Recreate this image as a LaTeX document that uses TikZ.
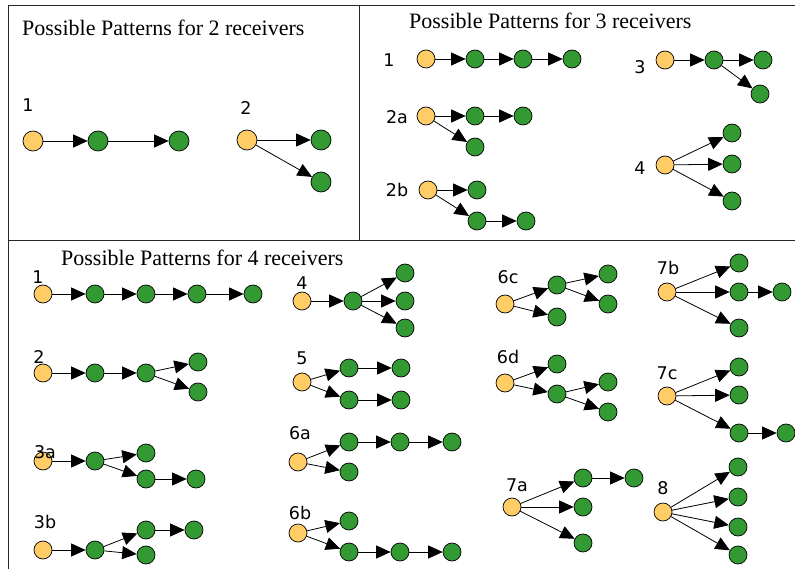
\documentclass[tikz,border=0pt]{standalone}
\usepackage{fontspec}
\setmainfont{Liberation Serif}
\newfontfamily\labfont{DejaVu Sans}
\usetikzlibrary{arrows.meta}
\definecolor{srcfill}{HTML}{FFCC66}
\definecolor{rxfill}{HTML}{339933}
\begin{document}
\begin{tikzpicture}[x=1pt,y=-1pt,
  nd/.style={circle,draw=black,line width=0.7pt,inner sep=0pt,minimum size=18pt},
  src/.style={nd,fill=srcfill},
  rx/.style={nd,fill=rxfill},
  bigsrc/.style={src,minimum size=20pt},
  bigrx/.style={rx,minimum size=20pt},
  arr/.style={-{Triangle[length=14.5pt,width=13pt]},line width=0.8pt,black},
  lab/.style={inner sep=0pt,font=\labfont\fontsize{17.5}{17.5}\selectfont},
  ttl/.style={inner sep=0pt,anchor=west,font=\fontsize{22}{22}\selectfont},
  frame/.style={line width=1pt,black!85}]
\useasboundingbox (0,0) rectangle (795,569);
% frames
\draw[frame] (8,569) -- (8,6) -- (795,6);
\draw[frame] (359,6) -- (359,241);
\draw[frame] (8,241) -- (795,241);
% titles
\node[ttl] (t2) at (22,28) {Possible Patterns for 2 receivers};
\node[ttl] (t3) at (409,21) {Possible Patterns for 3 receivers};
\node[ttl] (t4) at (61,258) {Possible Patterns for 4 receivers};

% ---------- 2 receivers ----------
\node[lab] (l21) at (28,105) {1};
\node[bigsrc] (p21s) at (33,141) {};
\node[bigrx] (p21a) at (98,141) {};
\node[bigrx] (p21b) at (179,141) {};
\draw[arr] (p21s) -- (p21a);
\draw[arr] (p21a) -- (p21b);

\node[lab] (l22) at (246,108) {2};
\node[bigsrc] (p22s) at (247,140) {};
\node[bigrx] (p22a) at (321,140) {};
\node[bigrx] (p22b) at (321,182) {};
\draw[arr] (p22s) -- (p22a);
\draw[arr] (p22s) -- (p22b);

% ---------- 3 receivers ----------
\node[lab] (l31) at (389,60) {1};
\node[src] (p31s) at (426,59) {};
\node[rx] (p31a) at (475,59) {};
\node[rx] (p31b) at (523,59) {};
\node[rx] (p31c) at (572,59) {};
\draw[arr] (p31s) -- (p31a);
\draw[arr] (p31a) -- (p31b);
\draw[arr] (p31b) -- (p31c);

\node[lab] (l33) at (640,67) {3};
\node[src] (p33s) at (665,60) {};
\node[rx] (p33a) at (714,60) {};
\node[rx] (p33b) at (763,60) {};
\node[rx] (p33c) at (760,94) {};
\draw[arr] (p33s) -- (p33a);
\draw[arr] (p33a) -- (p33b);
\draw[arr] (p33a) -- (p33c);

\node[lab] (l32a) at (397,117) {2a};
\node[src] (p32as) at (426,116) {};
\node[rx] (p32aa) at (475,116) {};
\node[rx] (p32ab) at (523,116) {};
\node[rx] (p32ac) at (475,147) {};
\draw[arr] (p32as) -- (p32aa);
\draw[arr] (p32aa) -- (p32ab);
\draw[arr] (p32as) -- (p32ac);

\node[lab] (l32b) at (397,190) {2b};
\node[src] (p32bs) at (428,190) {};
\node[rx] (p32ba) at (477,190) {};
\node[rx] (p32bb) at (477,221) {};
\node[rx] (p32bc) at (526,221) {};
\draw[arr] (p32bs) -- (p32ba);
\draw[arr] (p32bs) -- (p32bb);
\draw[arr] (p32bb) -- (p32bc);

\node[lab] (l34) at (640,168) {4};
\node[src] (p34s) at (665,165) {};
\node[rx] (p34a) at (732,133) {};
\node[rx] (p34b) at (732,164) {};
\node[rx] (p34c) at (732,201) {};
\draw[arr] (p34s) -- (p34a);
\draw[arr] (p34s) -- (p34b);
\draw[arr] (p34s) -- (p34c);

% ---------- 4 receivers ----------
\node[src] (q1s) at (43,294) {};
\node[rx] (q1a) at (95,294) {};
\node[rx] (q1b) at (146,294) {};
\node[rx] (q1c) at (197,294) {};
\node[rx] (q1d) at (253,294) {};
\draw[arr] (q1s) -- (q1a);
\draw[arr] (q1a) -- (q1b);
\draw[arr] (q1b) -- (q1c);
\draw[arr] (q1c) -- (q1d);
\node[lab] (lq1) at (38,277) {1};

\node[src] (q2s) at (43,373) {};
\node[rx] (q2a) at (95,373) {};
\node[rx] (q2b) at (146,373) {};
\node[rx] (q2c) at (198,362) {};
\node[rx] (q2d) at (198,392) {};
\draw[arr] (q2s) -- (q2a);
\draw[arr] (q2a) -- (q2b);
\draw[arr] (q2b) -- (q2c);
\draw[arr] (q2b) -- (q2d);
\node[lab] (lq2) at (39,357) {2};

\node[src] (q3as) at (43,461) {};
\node[rx] (q3aa) at (95,461) {};
\node[rx] (q3ab) at (146,453) {};
\node[rx] (q3ac) at (146,479) {};
\node[rx] (q3ad) at (196,479) {};
\draw[arr] (q3as) -- (q3aa);
\draw[arr] (q3aa) -- (q3ab);
\draw[arr] (q3aa) -- (q3ac);
\draw[arr] (q3ac) -- (q3ad);
\node[lab] (lq3a) at (45,452) {3a};

\node[src] (q3bs) at (43,550) {};
\node[rx] (q3ba) at (95,550) {};
\node[rx] (q3bb) at (146,530) {};
\node[rx] (q3bc) at (146,555) {};
\node[rx] (q3bd) at (194,530) {};
\draw[arr] (q3bs) -- (q3ba);
\draw[arr] (q3ba) -- (q3bb);
\draw[arr] (q3ba) -- (q3bc);
\draw[arr] (q3bb) -- (q3bd);
\node[lab] (lq3b) at (45,522) {3b};

\node[src] (q4s) at (302,301) {};
\node[rx] (q4a) at (353,301) {};
\node[rx] (q4b) at (405,273) {};
\node[rx] (q4c) at (405,301) {};
\node[rx] (q4d) at (405,328) {};
\draw[arr] (q4s) -- (q4a);
\draw[arr] (q4a) -- (q4b);
\draw[arr] (q4a) -- (q4c);
\draw[arr] (q4a) -- (q4d);
\node[lab] (lq4) at (302,283) {4};

\node[src] (q5s) at (302,382) {};
\node[rx] (q5a) at (349,368) {};
\node[rx] (q5b) at (401,368) {};
\node[rx] (q5c) at (349,400) {};
\node[rx] (q5d) at (401,400) {};
\draw[arr] (q5s) -- (q5a);
\draw[arr] (q5a) -- (q5b);
\draw[arr] (q5s) -- (q5c);
\draw[arr] (q5c) -- (q5d);
\node[lab] (lq5) at (302,358) {5};

\node[src] (q6as) at (298,462) {};
\node[rx] (q6aa) at (349,442) {};
\node[rx] (q6ab) at (400,442) {};
\node[rx] (q6ac) at (452,442) {};
\node[rx] (q6ad) at (349,472) {};
\draw[arr] (q6as) -- (q6aa);
\draw[arr] (q6aa) -- (q6ab);
\draw[arr] (q6ab) -- (q6ac);
\draw[arr] (q6as) -- (q6ad);
\node[lab] (lq6a) at (300,433) {6a};

\node[src] (q6bs) at (298,533) {};
\node[rx] (q6ba) at (349,521) {};
\node[rx] (q6bb) at (349,552) {};
\node[rx] (q6bc) at (400,552) {};
\node[rx] (q6bd) at (452,552) {};
\draw[arr] (q6bs) -- (q6ba);
\draw[arr] (q6bs) -- (q6bb);
\draw[arr] (q6bb) -- (q6bc);
\draw[arr] (q6bc) -- (q6bd);
\node[lab] (lq6b) at (300,513) {6b};

\node[src] (q6cs) at (505,304) {};
\node[rx] (q6ca) at (557,285) {};
\node[rx] (q6cb) at (608,274) {};
\node[rx] (q6cc) at (608,304) {};
\node[rx] (q6cd) at (557,317) {};
\draw[arr] (q6cs) -- (q6ca);
\draw[arr] (q6ca) -- (q6cb);
\draw[arr] (q6ca) -- (q6cc);
\draw[arr] (q6cs) -- (q6cd);
\node[lab] (lq6c) at (508,277) {6c};

\node[src] (q6ds) at (505,383) {};
\node[rx] (q6da) at (557,364) {};
\node[rx] (q6db) at (557,394) {};
\node[rx] (q6dc) at (608,382) {};
\node[rx] (q6dd) at (608,412) {};
\draw[arr] (q6ds) -- (q6da);
\draw[arr] (q6ds) -- (q6db);
\draw[arr] (q6db) -- (q6dc);
\draw[arr] (q6db) -- (q6dd);
\node[lab] (lq6d) at (508,357) {6d};

\node[src] (q7bs) at (667,292) {};
\node[rx] (q7ba) at (739,263) {};
\node[rx] (q7bb) at (739,292) {};
\node[rx] (q7bc) at (782,292) {};
\node[rx] (q7bd) at (739,328) {};
\draw[arr] (q7bs) -- (q7ba);
\draw[arr] (q7bs) -- (q7bb);
\draw[arr] (q7bb) -- (q7bc);
\draw[arr] (q7bs) -- (q7bd);
\node[lab] (lq7b) at (668,268) {7b};

\node[src] (q7cs) at (667,396) {};
\node[rx] (q7ca) at (739,367) {};
\node[rx] (q7cb) at (739,395) {};
\node[rx] (q7cc) at (739,433) {};
\node[rx] (q7cd) at (786,433) {};
\draw[arr] (q7cs) -- (q7ca);
\draw[arr] (q7cs) -- (q7cb);
\draw[arr] (q7cs) -- (q7cc);
\draw[arr] (q7cc) -- (q7cd);
\node[lab] (lq7c) at (667,373) {7c};

\node[src] (q7as) at (512,507) {};
\node[rx] (q7aa) at (583,478) {};
\node[rx] (q7ab) at (634,478) {};
\node[rx] (q7ac) at (583,507) {};
\node[rx] (q7ad) at (583,543) {};
\draw[arr] (q7as) -- (q7aa);
\draw[arr] (q7aa) -- (q7ab);
\draw[arr] (q7as) -- (q7ac);
\draw[arr] (q7as) -- (q7ad);
\node[lab] (lq7a) at (517,485) {7a};

\node[src] (q8s) at (663,512) {};
\node[rx] (q8a) at (738,467) {};
\node[rx] (q8b) at (738,497) {};
\node[rx] (q8c) at (738,527) {};
\node[rx] (q8d) at (738,555) {};
\draw[arr] (q8s) -- (q8a);
\draw[arr] (q8s) -- (q8b);
\draw[arr] (q8s) -- (q8c);
\draw[arr] (q8s) -- (q8d);
\node[lab] (lq8) at (663,488) {8};
\end{tikzpicture}
\end{document}
